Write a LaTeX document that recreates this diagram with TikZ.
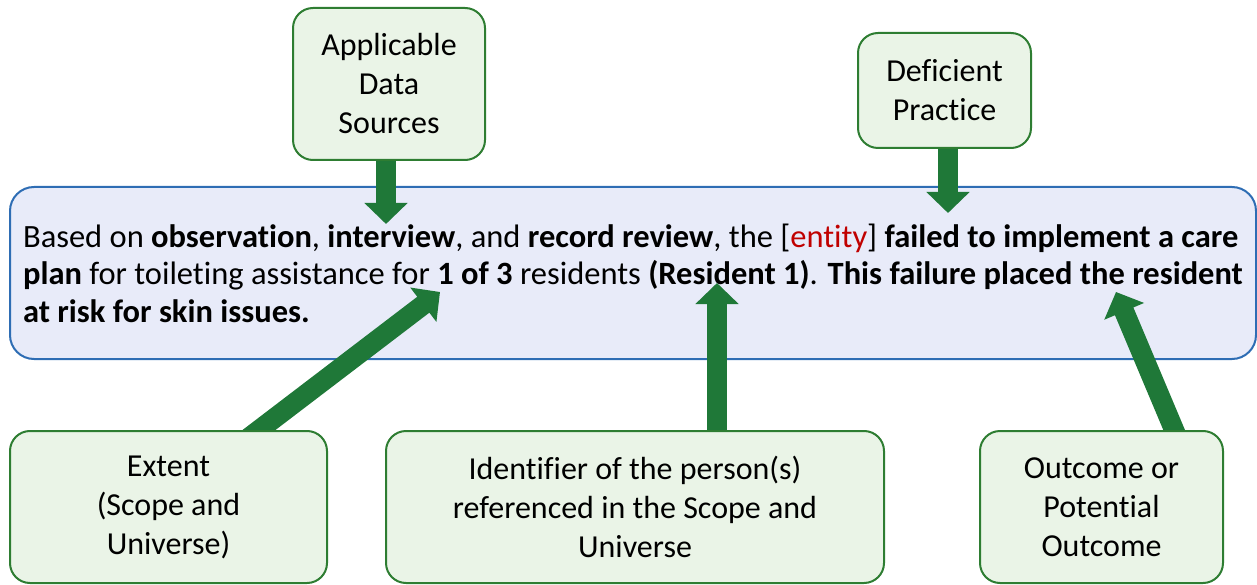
\documentclass[tikz,border=0pt]{standalone}
\usepackage{fontspec}
\setmainfont[Ligatures=NoCommon]{Carlito}
\usepackage{tikz}
\usetikzlibrary{arrows.meta,positioning}
\usepackage{xcolor}
\definecolor{boxgreen}{HTML}{2E7D32}
\definecolor{boxfill}{HTML}{EAF4E7}
\definecolor{arrowgreen}{HTML}{1F7838}
\definecolor{mainblue}{HTML}{2E6DB4}
\definecolor{mainfill}{HTML}{E8EBF9}
\definecolor{entityred}{HTML}{C00000}
\pgfdeclarelayer{front}
\pgfsetlayers{main,front}

\begin{document}
\begin{tikzpicture}[x=1pt, y=-1pt,
    tag/.style={draw=boxgreen, line width=2pt, fill=boxfill, rounded corners=20pt, align=center, font=\fontsize{32}{39}\selectfont},
    bigarrow/.style={draw=arrowgreen, line width=20pt, -{Triangle[width=42pt,length=21pt]}}]
            \useasboundingbox (0,0) rectangle (1257,585);
            % statement box
            \node[draw=mainblue, line width=2pt, fill=mainfill, rounded corners=24pt, minimum width=1246pt, minimum height=172pt, align=left, font=\fontsize{32.5}{37.5}\selectfont] (stmt) at (633,273) {Based on \textbf{observation}, \textbf{interview}, and \textbf{record review}, the [\textcolor{entityred}{entity}] \textbf{failed to implement a care}\\\textbf{plan} for toileting assistance for \textbf{1 of 3} residents \textbf{(Resident 1)}. \textbf{This failure placed the resident}\\\textbf{at risk for skin issues.}};
            \node[tag, minimum width=192pt, minimum height=152pt] (src) at (389,84) {Applicable\\Data\\Sources};
            \node[tag, minimum width=173pt, minimum height=115pt] (def) at (944.5,90.5) {Deficient\\Practice};
            \begin{pgfonlayer}{front}
            \node[tag, minimum width=317pt, minimum height=152pt] (ext) at (168.5,507) {Extent\\(Scope and\\Universe)};
            \node[tag, minimum width=498pt, minimum height=152pt] (idn) at (635,507) {Identifier of the person(s)\\referenced in the Scope and\\Universe};
            \node[tag, minimum width=243pt, minimum height=152pt] (out) at (1101.5,507) {Outcome or\\Potential\\Outcome};
            \end{pgfonlayer}
            \coordinate (srctip) at (386,224);
            \coordinate (deftip) at (948,213);
            \coordinate (exttip) at (440,292);
            \coordinate (idntip) at (717,283);
            \coordinate (outtip) at (1116,292);
            \draw[bigarrow] (src.south -| srctip) -- (srctip);
            \draw[bigarrow] (def.south -| deftip) -- (deftip);
            \draw[bigarrow] ([xshift=80pt,yshift=-8pt]ext.north) -- (exttip);
            \draw[bigarrow] (idn.north -| idntip) -- (idntip);
            \draw[bigarrow] ([xshift=76pt,yshift=-8pt]out.north) -- (outtip);
        \end{tikzpicture}
\end{document}
